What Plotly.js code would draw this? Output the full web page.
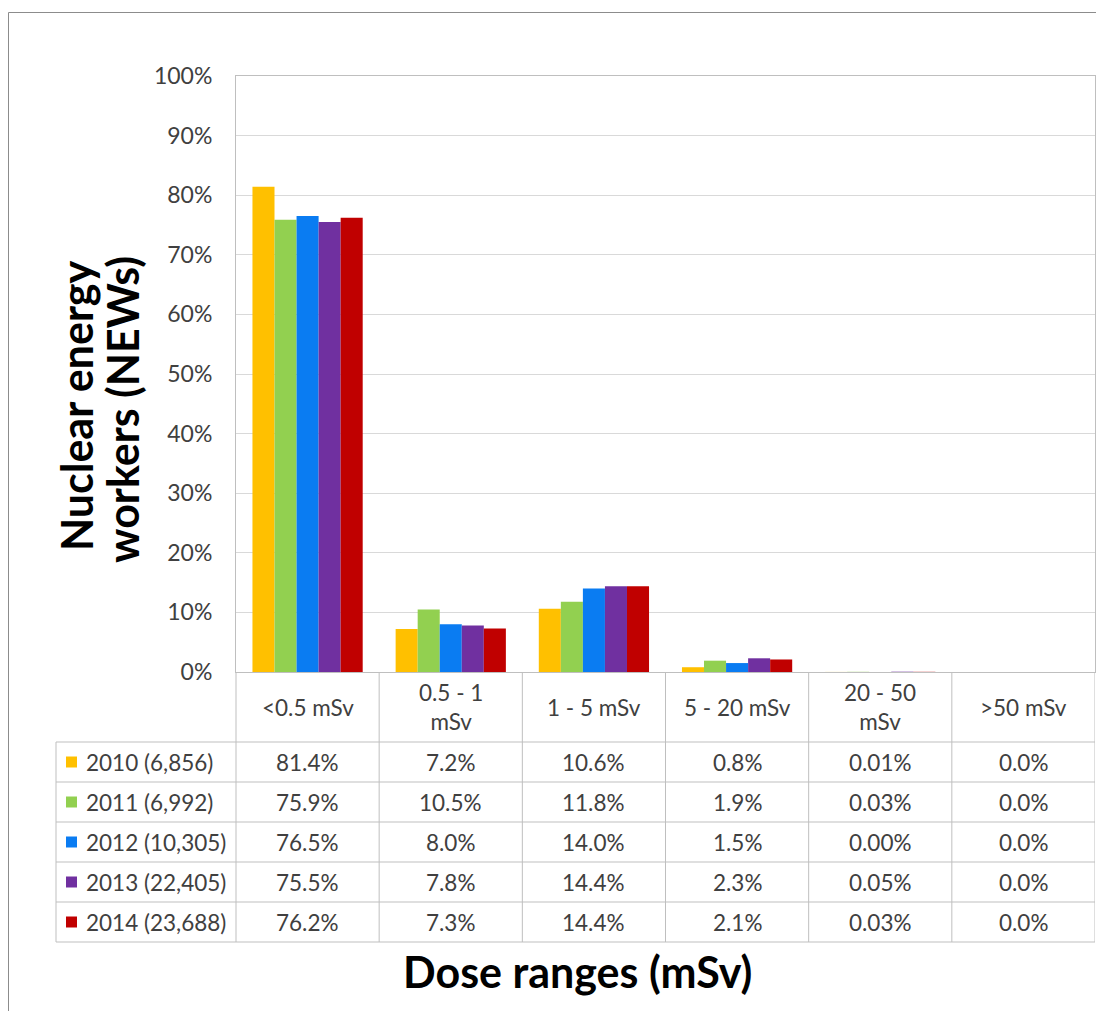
<!DOCTYPE html>
<html>
<head>
<meta charset="utf-8">
<script src="https://cdn.plot.ly/plotly-3.0.1.min.js"></script>
<style>html,body{margin:0;padding:0;background:#fff;}#chart{width:1096px;height:1011px;}</style>
</head>
<body>
<div id="chart"></div>
<script>
// ---- data ----
const categories = ["<0.5 mSv", "0.5 - 1 mSv", "1 - 5 mSv", "5 - 20 mSv", "20 - 50 mSv", ">50 mSv"];
const headerLabels = ["&lt;0.5 mSv", "0.5 - 1<br>mSv", "1 - 5 mSv", "5 - 20 mSv", "20 - 50<br>mSv", "&gt;50 mSv"];
const decimals = [1, 1, 1, 1, 2, 1];
const seriesNames = ["2010 (6,856)", "2011 (6,992)", "2012 (10,305)", "2013 (22,405)", "2014 (23,688)"];
const v2010 = [81.4, 7.2, 10.6, 0.8, 0.01, 0.0];
const v2011 = [75.9, 10.5, 11.8, 1.9, 0.03, 0.0];
const v2012 = [76.5, 8.0, 14.0, 1.5, 0.00, 0.0];
const v2013 = [75.5, 7.8, 14.4, 2.3, 0.05, 0.0];
const v2014 = [76.2, 7.3, 14.4, 2.1, 0.03, 0.0];
const seriesValues = [v2010, v2011, v2012, v2013, v2014];
const colors = ["#FFC000", "#92D050", "#0A7CF2", "#7030A0", "#C00000"];

// ---- geometry helpers (pixel -> paper) ----
const W = 1096, H = 1011, ML = 236, MR = 1, MT = 76, MB = 0;
const PW = W - ML - MR, PH = H - MT - MB;
const px = X => (X - ML) / PW;
const py = Y => (H - MB - Y) / PH;
const AXIS_Y = 672;
const headerTop = 672, headerBottom = 742, rowH = 40;
const tableLeft = 56, tableRight = 1095;
const lineColor = "#BFBFBF";
const textColor = "#404040";
const FONT = "Lato, 'Open Sans', sans-serif";
const cellFont = 22.5, titleFont = 43;

const traces = seriesValues.map((vals, i) => ({
  type: "bar",
  name: seriesNames[i],
  x: categories,
  y: vals,
  marker: {color: colors[i]},
  hoverinfo: "name+y"
}));

const shapes = [];
const annotations = [];
const nRows = seriesNames.length;
const tableBottom = headerBottom + nRows * rowH;

// row lines
for (let r = 0; r <= nRows; r++) {
  const Y = headerBottom + r * rowH;
  shapes.push({type: "line", xref: "paper", yref: "paper", x0: px(tableLeft), x1: px(tableRight), y0: py(Y), y1: py(Y), line: {color: lineColor, width: 1}});
}
// vertical lines
shapes.push({type: "line", xref: "paper", yref: "paper", x0: px(tableLeft), x1: px(tableLeft), y0: py(headerBottom), y1: py(tableBottom), line: {color: lineColor, width: 1}});
shapes.push({type: "line", xref: "paper", yref: "paper", x0: 0, x1: 0, y0: py(headerTop), y1: py(tableBottom), line: {color: lineColor, width: 1}});
for (let c = 0; c < categories.length; c++) {
  shapes.push({type: "line", xref: "x", yref: "paper", x0: c + 0.5, x1: c + 0.5, y0: py(headerTop), y1: py(tableBottom), line: {color: lineColor, width: 1}});
}
// outer chart border
shapes.push({type: "rect", xref: "paper", yref: "paper", x0: px(8.5), x1: px(1110), y0: py(1030), y1: py(12.5), line: {color: "#8C8C8C", width: 1}, fillcolor: "rgba(0,0,0,0)", layer: "below"});

// header labels
categories.forEach((c, i) => {
  annotations.push({xref: "x", yref: "paper", x: i, y: py((headerTop + headerBottom) / 2), text: headerLabels[i], showarrow: false, xanchor: "center", yanchor: "middle", font: {family: FONT, size: cellFont, color: textColor}});
});
// rows
seriesNames.forEach((name, r) => {
  const cy = headerBottom + r * rowH + rowH / 2;
  shapes.push({type: "rect", xref: "paper", yref: "paper", x0: px(66), x1: px(77), y0: py(cy + 5.5), y1: py(cy - 5.5), fillcolor: colors[r], line: {width: 0}});
  annotations.push({xref: "paper", yref: "paper", x: px(84), y: py(cy), text: name, showarrow: false, xanchor: "left", yanchor: "middle", font: {family: FONT, size: cellFont, color: textColor}});
  seriesValues[r].forEach((v, c) => {
    annotations.push({xref: "x", yref: "paper", x: c, y: py(cy), text: v.toFixed(decimals[c]) + "%", showarrow: false, xanchor: "center", yanchor: "middle", font: {family: FONT, size: cellFont, color: textColor}});
  });
});
// axis titles
annotations.push({xref: "paper", yref: "paper", x: px(577), y: py(971), text: "<b>Dose ranges (mSv)</b>", showarrow: false, xanchor: "center", yanchor: "middle", font: {family: FONT, size: titleFont, color: "#000"}});
annotations.push({xref: "paper", yref: "paper", x: px(77), y: py(406), text: "<b>Nuclear energy</b>", textangle: -90, showarrow: false, xanchor: "center", yanchor: "middle", font: {family: FONT, size: titleFont, color: "#000"}});
annotations.push({xref: "paper", yref: "paper", x: px(123), y: py(410), text: "<b>workers (NEWs)</b>", textangle: -90, showarrow: false, xanchor: "center", yanchor: "middle", font: {family: FONT, size: titleFont, color: "#000"}});

const layout = {
  width: W, height: H,
  margin: {l: ML, r: MR, t: MT, b: MB, pad: 0},
  paper_bgcolor: "#fff", plot_bgcolor: "#fff",
  showlegend: false,
  barmode: "group",
  bargap: 0.23, bargroupgap: 0,
  xaxis: {type: "category", range: [-0.5, 5.5], showticklabels: false, ticks: "", showgrid: false, zeroline: false, showline: true, mirror: true, linecolor: lineColor, linewidth: 1, fixedrange: true},
  yaxis: {domain: [py(AXIS_Y), 1], range: [0, 100], dtick: 10, ticksuffix: "%", showgrid: true, gridcolor: "#D9D9D9", gridwidth: 1, zeroline: false, showline: true, mirror: true, linecolor: lineColor, linewidth: 1, ticks: "", ticklabelstandoff: 18, tickfont: {family: FONT, size: 23, color: "#404040"}, fixedrange: true},
  shapes: shapes,
  annotations: annotations,
  font: {family: FONT}
};

Plotly.newPlot("chart", traces, layout, {displayModeBar: false, staticPlot: true});
</script>
</body>
</html>
